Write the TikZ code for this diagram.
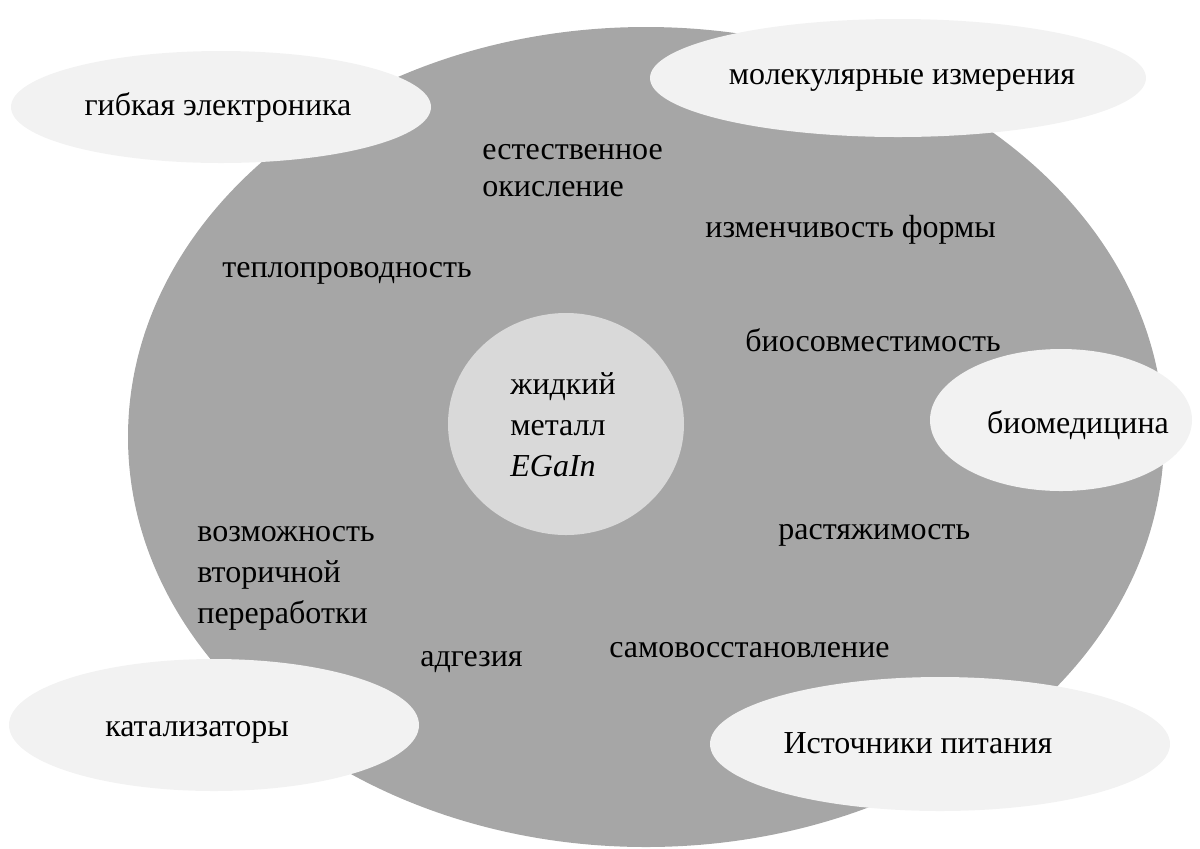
\documentclass[tikz,border=0pt]{standalone}
\usepackage{fontspec}
\setmainfont{Liberation Serif}
\definecolor{bigc}{HTML}{A6A6A6}
\definecolor{appc}{HTML}{F2F2F2}
\definecolor{corec}{HTML}{D9D9D9}
\begin{document}
\begin{tikzpicture}[x=0.5pt,y=-0.5pt,
  lbl/.style={inner sep=0pt,anchor=west,align=left,font=\fontsize{16}{20.5}\selectfont},
  app/.style={inner sep=0pt,font=\fontsize{16}{20.5}\selectfont}]
\useasboundingbox (0,0) rectangle (1200,848);
% main circle
\fill[bigc] (646,437) ellipse [x radius=518, y radius=410];
% application ellipses
\fill[appc] (221,107) ellipse [x radius=210, y radius=56];
\fill[appc] (898,78) ellipse [x radius=248, y radius=59];
\fill[appc] (1061,420) ellipse [x radius=131, y radius=71];
\fill[appc] (214,725) ellipse [x radius=205, y radius=66];
\fill[appc] (940,744) ellipse [x radius=230, y radius=67];
% core
\fill[corec] (566,424) ellipse [x radius=118, y radius=111];
% labels
\node[app] (flex) at (218,107) {гибкая электроника};
\node[app] (mol) at (902,80) {молекулярные измерения};
\node[app] (bio) at (1078,425) {биомедицина};
\node[app] (cat) at (197,732) {катализаторы};
\node[app] (pow) at (918,743) {Источники питания};
\node[lbl] (core) at (510,425) {жидкий\\металл\\\textit{EGaIn}};
\node[lbl,font=\fontsize{16}{18.5}\selectfont] (ox) at (482,171) {естественное\\окисление};
\node[lbl] (shape) at (705,230) {изменчивость формы};
\node[lbl] (heat) at (222,273) {теплопроводность};
\node[lbl] (biocomp) at (745,340) {биосовместимость};
\node[lbl] (stretch) at (778,535) {растяжимость};
\node[lbl] (recyc) at (197,578) {возможность\\вторичной\\переработки};
\node[lbl] (adh) at (420,662) {адгезия};
\node[lbl] (heal) at (609,650) {самовосстановление};
\end{tikzpicture}
\end{document}
